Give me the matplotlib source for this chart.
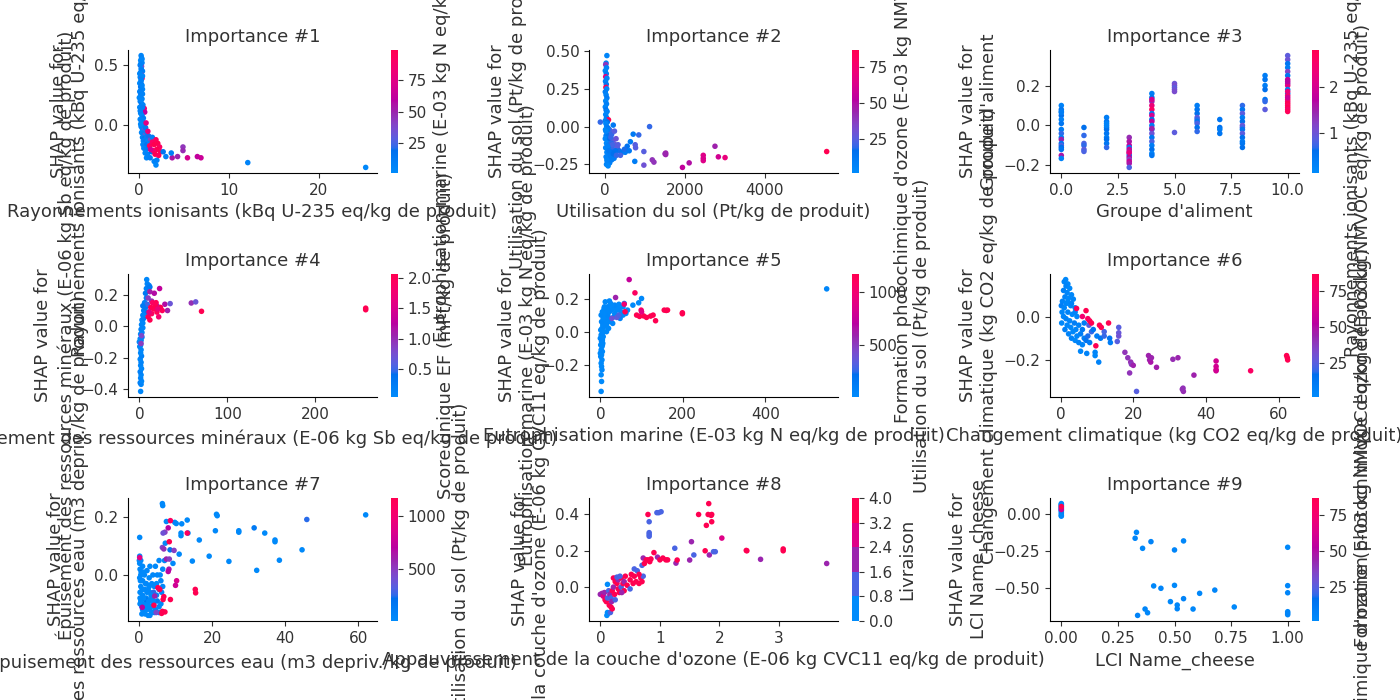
import numpy as np
import matplotlib
matplotlib.use('Agg')
import matplotlib.pyplot as plt
from matplotlib.colors import LinearSegmentedColormap, BoundaryNorm

# noms des variables (axe x / ylabel) et variable d'interaction (barre de couleur)
feat = ["Rayonnements ionisants (kBq U-235 eq/kg de produit)",
        "Utilisation du sol (Pt/kg de produit)",
        "Groupe d'aliment",
        "Épuisement des ressources minéraux (E-06 kg Sb eq/kg de produit)",
        "Eutrophisation marine (E-03 kg N eq/kg de produit)",
        "Changement climatique (kg CO2 eq/kg de produit)",
        "Épuisement des ressources eau (m3 depriv./kg de produit)",
        "Appauvrissement de la couche d'ozone (E-06 kg CVC11 eq/kg de produit)",
        "LCI Name_cheese"]
inter = ["Eutrophisation marine (E-03 kg N eq/kg de produit)",
         "Formation photochimique d'ozone (E-03 kg NMVOC eq/kg de produit)",
         "Rayonnements ionisants (kBq U-235 eq/kg de produit)",
         "Score unique EF (mPt/kg de produit)",
         "Utilisation du sol (Pt/kg de produit)",
         "Formation photochimique d'ozone (E-03 kg NMVOC eq/kg de produit)",
         "Utilisation du sol (Pt/kg de produit)",
         "Livraison",
         "Formation photochimique d'ozone (E-03 kg NMVOC eq/kg de produit)"]
c_min = [1.0, 1.4, 0.13, 0.05, 9, 1.4, 9, 0, 1.4]
c_max = [99, 87, 2.8, 2.06, 1175, 87, 1175, 4, 87]
cb_ticks4 = [0.5, 1.0, 1.5, 2.0]

# (valeur, shap, valeur interaction)
pts1 = [(0.25,0.58,5),(0.30,0.56,8),(0.20,0.54,3),(0.35,0.52,6),(0.15,0.50,10),(0.30,0.49,35),(0.25,0.47,4),
        (0.40,0.45,7),(0.20,0.44,12),(0.30,0.42,40),(0.15,0.40,5),(0.35,0.39,90),(0.25,0.37,6),(0.10,0.35,3),
        (0.30,0.34,9),(0.20,0.32,15),(0.40,0.30,4),(0.10,0.28,7),(0.30,0.27,5),(0.20,0.25,11),(0.05,0.23,3),
        (0.35,0.22,6),(0.15,0.20,8),(0.30,0.18,14),(0.45,0.17,5),(0.10,0.15,4),(0.25,0.13,9),(0.50,0.12,20),
        (0.60,0.14,85),(0.65,0.11,60),(0.20,0.10,6),(0.35,0.08,3),(0.50,0.06,10),(0.15,0.05,5),(0.30,0.03,7),
        (0.45,0.02,18),(0.60,0.00,4),(0.25,-0.01,9),(0.40,-0.03,6),(0.55,-0.04,25),(0.75,-0.02,12),(0.30,-0.06,4),
        (0.50,-0.07,8),(0.70,-0.08,30),(0.90,-0.06,6),(0.40,-0.10,5),(0.60,-0.11,15),(0.85,-0.10,9),(1.10,-0.09,20),
        (0.50,-0.13,7),(0.70,-0.14,11),(1.00,-0.13,5),(1.30,-0.12,40),(0.45,-0.16,3),(0.65,-0.17,8),(0.90,-0.16,14),
        (1.20,-0.15,6),(1.50,-0.10,10),(0.55,-0.19,5),(0.80,-0.20,9),(1.10,-0.19,12),(0.70,-0.23,4),(0.95,-0.24,7),
        (1.40,-0.22,18),(0.85,-0.27,6),(1.25,-0.27,10),(1.70,-0.30,5),(1.90,-0.33,3),(2.00,-0.29,8),
        (0.35,0.55,4),(0.20,0.51,6),(0.30,0.46,9),(0.10,0.43,5),(0.40,0.41,3),(0.25,0.38,7),(0.35,0.33,5),
        (0.20,0.29,8),(0.40,0.26,6),(0.25,0.21,4),(0.40,0.15,9),(0.15,0.12,6),(0.40,0.04,5),(0.20,0.01,3),
        (1.2,-0.17,95),(1.5,-0.14,90),(1.7,-0.16,99),(1.9,-0.12,95),(2.1,-0.15,99),(2.3,-0.18,92),(2.0,-0.20,99),
        (1.6,-0.21,88),(2.4,-0.22,97),(1.8,-0.24,99),(2.2,-0.25,94),(1.3,-0.20,70),(1.0,-0.05,80),(0.8,0.02,75),
        (3.7,-0.27,55),(4.9,-0.18,45),(4.9,-0.21,48),(5.4,-0.27,70),(6.5,-0.26,62),(6.9,-0.27,65),(4.3,-0.26,50),
        (3.6,-0.23,10),(3.0,-0.26,8),(2.7,-0.22,15),(12.1,-0.31,6),(25.2,-0.35,4)]

pts2 = [(40,0.47,5),(20,0.42,8),(10,0.41,40),(30,0.39,6),(0,0.37,3),(25,0.35,10),(10,0.33,70),(40,0.32,5),
        (5,0.30,7),(25,0.28,12),(15,0.26,85),(35,0.25,4),(0,0.23,9),(20,0.21,6),(40,0.19,11),(10,0.17,3),
        (30,0.15,8),(0,0.13,5),(20,0.11,14),(45,0.10,6),(10,0.08,4),(30,0.06,9),(80,0.045,87),(0,0.04,7),
        (50,0.03,15),(15,0.02,5),(-125,0.03,20),(35,0.0,8),(70,-0.01,12),(5,-0.02,4),(100,-0.02,18),(45,-0.04,6),
        (130,-0.03,22),(20,-0.06,9),(80,-0.06,14),(160,-0.05,20),(0,-0.08,5),(55,-0.09,7),(110,-0.08,16),
        (200,-0.09,25),(30,-0.11,4),(90,-0.12,10),(150,-0.11,19),(250,-0.12,28),(10,-0.14,6),(60,-0.15,8),
        (120,-0.14,13),(190,-0.15,20),(300,-0.14,26),(40,-0.17,5),(100,-0.18,9),(170,-0.17,15),(240,-0.18,11),
        (350,-0.16,18),(20,-0.20,7),(80,-0.21,6),(140,-0.20,12),(220,-0.21,9),(420,-0.17,14),(50,-0.23,4),
        (110,-0.24,8),(30,-0.25,5),(70,-0.26,3),(500,-0.17,10),(380,-0.19,22),(270,-0.08,30),(200,0.01,12),
        (230,-0.03,25),(60,-0.02,10),(140,-0.07,20),(180,-0.12,22),(260,-0.16,15),(320,-0.12,25),(130,-0.19,10),
        (200,-0.18,16),(15,-0.03,5),(60,-0.13,8),(90,-0.16,12),(280,-0.19,20),(160,-0.22,10),(40,-0.22,6),
        (630,-0.10,10),(700,-0.05,12),(840,-0.055,20),(750,-0.12,25),(760,-0.14,25),(740,-0.23,10),(550,-0.13,15),
        (480,-0.15,18),(600,-0.16,12),(968,-0.165,25),(968,-0.255,30),(1111,0.0,20),(1179,-0.22,40),
        (1221,-0.235,40),(1516,-0.175,45),(1516,-0.185,45),(1500,-0.18,44),(1937,-0.27,55),(2105,-0.24,50),
        (2459,-0.19,65),(2459,-0.225,65),(2459,-0.21,63),(2753,-0.13,45),(2838,-0.20,60),(3006,-0.205,70),
        (5557,-0.165,87)]

pts3 = [(0,0.10,0.3),(0,0.08,0.5),(0,0.07,0.4),(0,0.05,0.6),(0,0.03,0.3),(0,0.01,0.5),(0,-0.02,0.4),
        (0,-0.04,0.7),(0,-0.06,0.3),(0,-0.07,1.5),(0,-0.09,0.5),(0,-0.10,0.8),(0,-0.11,0.6),(0,-0.15,1.6),
        (0,-0.165,0.3),(0,0.065,0.4),(0,-0.12,0.5),
        (1,-0.01,0.6),(1,-0.05,0.7),(1,-0.09,0.8),(1,-0.10,0.7),(1,-0.12,0.9),(1,-0.13,0.8),
        (2,0.04,0.4),(2,0.02,0.5),(2,0.01,0.3),(2,-0.01,0.4),(2,-0.02,0.6),(2,-0.04,0.5),(2,-0.06,0.4),
        (2,-0.07,0.6),(2,-0.09,0.5),(2,-0.11,0.7),(2,0.0,0.3),
        (3,-0.06,1.4),(3,-0.08,1.6),(3,-0.10,1.8),(3,-0.11,0.4),(3,-0.12,1.9),(3,-0.13,1.5),(3,-0.14,2.0),
        (3,-0.15,0.5),(3,-0.16,1.7),(3,-0.17,1.2),(3,-0.18,1.9),(3,-0.19,1.6),(3,-0.21,0.8),(3,-0.135,2.2),
        (4,0.16,0.4),(4,0.14,0.5),(4,0.12,1.4),(4,0.10,2.3),(4,0.08,2.6),(4,0.06,0.5),(4,0.05,2.0),(4,0.03,0.6),
        (4,0.02,1.8),(4,0.0,0.4),(4,-0.02,0.7),(4,-0.04,1.0),(4,-0.06,0.5),(4,-0.08,0.8),(4,-0.10,0.4),
        (4,-0.12,0.6),(4,-0.14,0.3),(4,-0.15,0.5),(4,-0.015,1.5),(4,0.13,2.0),
        (5,0.21,1.0),(5,0.20,1.1),(5,0.19,0.9),(5,0.18,1.0),(5,0.17,1.1),(5,-0.035,0.9),
        (6,0.10,0.4),(6,0.08,0.5),(6,0.06,0.6),(6,0.04,0.9),(6,0.03,0.7),(6,0.02,0.5),(6,0.01,0.8),(6,-0.01,0.6),
        (6,-0.03,0.7),
        (7,0.03,0.5),(7,-0.01,0.6),(7,-0.02,0.4),(7,-0.04,0.5),
        (8,0.10,0.7),(8,0.08,0.5),(8,0.06,0.9),(8,0.04,0.4),(8,0.02,0.6),(8,0.0,1.0),(8,-0.01,0.8),(8,-0.02,0.5),
        (8,-0.04,0.9),(8,-0.06,0.6),(8,-0.08,0.4),(8,-0.09,0.5),(8,-0.11,0.6),
        (9,0.25,0.4),(9,0.23,0.5),(9,0.20,0.4),(9,0.18,0.6),(9,0.13,0.5),(9,0.12,0.7),(9,0.08,0.9),
        (10,0.35,0.9),(10,0.33,1.0),(10,0.31,0.5),(10,0.29,0.4),(10,0.27,1.2),(10,0.25,0.5),(10,0.23,1.8),
        (10,0.21,1.5),(10,0.20,2.2),(10,0.18,0.4),(10,0.16,0.5),(10,0.15,2.5),(10,0.13,2.7),(10,0.12,2.4),
        (10,0.11,2.8),(10,0.10,2.6),(10,0.09,2.9),(10,0.08,2.5),(10,0.07,2.7),(10,0.14,1.9),(10,0.17,2.3),
        (10,0.22,1.7)]

pts4 = [(1.5,-0.415,0.1),(2,-0.37,0.1),(1,-0.36,0.2),(2.5,-0.35,0.1),(1.5,-0.33,0.15),(2,-0.31,0.1),
        (1,-0.29,0.2),(2.5,-0.27,0.1),(1.5,-0.25,0.1),(2,-0.23,0.15),(1,-0.21,0.1),(2.5,-0.19,0.2),
        (1.5,-0.17,0.1),(2,-0.15,0.1),(0.5,-0.13,0.15),(1.5,-0.12,0.1),(0,-0.10,0.1),(2,-0.09,0.2),
        (1,-0.08,0.1),(3,-0.07,0.15),(1.5,-0.05,0.1),(3,-0.04,0.1),(2,-0.02,0.2),(4,-0.01,0.1),(2.5,0.01,0.15),
        (4,0.02,0.1),(3,0.04,0.1),(5,0.05,0.2),(4,0.07,0.15),(6,0.08,0.1),(2.5,-0.06,0.8),(2,-0.11,0.9),
        (5,0.10,0.2),(7,0.12,0.3),(6,0.15,0.2),(8,0.18,0.25),(7,0.21,0.3),(8,0.24,0.2),(9,0.27,0.15),
        (8.4,0.297,0.1),(11,0.26,0.2),(12,0.25,0.3),(9,0.14,0.5),(10,0.09,0.4),(4,0.13,0.3),
        (10,0.18,0.9),(12,0.22,1.1),(17,0.21,1.2),(23,0.24,1.3),(14,0.16,1.0),(29,0.14,1.2),(32,0.10,1.1),
        (35,0.144,0.7),(59,0.148,1.0),(64,0.155,0.7),(20,0.13,1.1),
        (10,0.06,2.0),(12,0.04,2.06),(14,0.08,1.9),(16,0.11,2.0),(18,0.13,2.06),(20,0.09,2.0),(22,0.06,1.8),
        (24,0.12,2.06),(26,0.10,2.0),(15,0.15,1.9),(13,0.12,2.06),(19,0.15,2.0),(21,0.11,1.7),(11,0.09,1.6),
        (70.6,0.095,2.06),(257,0.115,2.06),(257,0.105,2.06)]

pts5 = [(2,-0.36,20),(3,-0.30,15),(2,-0.26,25),(4,-0.23,30),(3,-0.21,20),(2,-0.19,15),(4,-0.17,25),
        (1,-0.15,30),(3,-0.14,20),(0,-0.13,15),(5,-0.12,25),(2,-0.11,30),(4,-0.09,20),(1,-0.08,15),
        (6,-0.07,25),(3,-0.06,30),(5,-0.05,20),(0,-0.04,40),(7,-0.03,25),(2,-0.02,15),(5,-0.01,30),
        (8,0.0,20),(1,0.01,25),(4,0.02,15),(9,0.03,30),(6,0.04,20),
        (10,0.05,25),(3,0.06,40),(12,0.07,30),(7,0.08,20),(15,0.09,25),(2,0.10,35),(18,0.10,40),(10,0.11,20),
        (22,0.12,30),(5,0.12,25),(14,0.13,20),(26,0.13,35),(9,0.14,30),(30,0.14,25),(18,0.15,40),(40,0.15,30),
        (25,0.17,20),(12,0.18,25),(22,0.185,30),(35,0.16,50),(45,0.14,25),(50,0.12,30),(55,0.10,20),
        (62,0.11,35),(20,0.06,25),(30,0.05,40),(15,0.04,30),(8,0.12,20),(33,0.09,100),(48,0.08,80),
        (58,0.17,30),(66,0.13,25),(15,0.0,20),(20,0.02,25),(25,0.08,30),(35,0.11,20),(40,0.13,25),(10,0.15,30),
        (28,0.16,20),(45,0.165,25),(55,0.15,30),(18,0.13,35),(8,0.08,25),(5,-0.08,20),
        (28,0.08,400),(40,0.086,350),(37,0.206,600),(70,0.314,750),(45,0.10,300),
        (79,0.16,20),(93,0.174,25),(100,0.20,30),(549,0.258,50),
        (84,0.234,1100),(58,0.166,1000),(60,0.12,1175),(88,0.10,1175),(99,0.13,1100),(112,0.086,1175),
        (122,0.094,1175),(134,0.066,1175),(155,0.13,1175),(160,0.128,1175),(163,0.13,1175),(199,0.114,1175),
        (199,0.108,1175),(105,0.095,1175),(95,0.092,1175),(128,0.10,1175),(100,0.12,900)]

pts6 = [(1.4,0.17,3),(1.0,0.16,5),(2.0,0.15,4),(1.5,0.14,6),(2.5,0.13,3),(0.8,0.12,8),(1.8,0.11,5),
        (3.0,0.10,4),(1.2,0.09,7),(2.2,0.085,3),(0.5,0.07,6),(3.5,0.08,5),(1.6,0.06,4),(0.2,0.05,9),
        (2.8,0.05,3),(1.0,0.04,5),(4.0,0.04,8),(0.4,0.02,4),(2.0,0.02,6),(3.2,0.01,3),(0.8,0.0,5),
        (1.5,-0.01,7),(4.5,0.0,4),(2.5,-0.02,5),(0.3,-0.03,3),(3.8,-0.03,9),(1.8,-0.04,4),(5.0,-0.04,6),
        (2.8,-0.05,3),(4.2,-0.06,5),(1.2,-0.06,8),(6.0,-0.06,12),(3.4,-0.07,4),(2.2,-0.08,6),(5.5,-0.08,10),
        (4.5,-0.09,5),(3.0,-0.10,7),(6.5,-0.10,9),(4.0,-0.11,4),(7.0,-0.11,15),(5.0,-0.12,6),(8.0,-0.12,11),
        (6.0,-0.13,5),(7.5,-0.09,18),(8.5,-0.07,20),(5.5,-0.16,4),(7.2,-0.17,6),(9.5,-0.165,5),(9.5,-0.18,4),
        (10.5,-0.21,6),(6.5,-0.03,10),(7.8,-0.04,25),(9,-0.06,14),(10,-0.09,8),(11,-0.10,12),(12,-0.09,20),
        (13.7,-0.12,10),(12,-0.07,22),(13.5,-0.10,15),(2.0,0.07,4),(3.0,0.06,6),(4.0,0.02,5),
        (4.4,0.037,85),(7.0,0.027,87),(8.0,-0.02,87),(7.5,-0.01,80),(8.5,-0.03,87),(10.7,-0.04,87),
        (11.2,-0.05,87),(13.2,-0.03,87),(9.7,-0.135,87),(6,0.0,75),
        (16,-0.05,25),(16,-0.075,28),(16,-0.09,30),(15.6,-0.115,25),(17.7,-0.165,40),(18.5,-0.19,40),
        (19.3,-0.21,42),(19.5,-0.22,38),(20,-0.225,45),(19,-0.26,40),(20.9,-0.345,25),(24.2,-0.18,45),
        (24.5,-0.2,45),(24.8,-0.21,48),(25,-0.19,44),(26.4,-0.234,46),(30.9,-0.197,42),(32.3,-0.19,44),
        (33.7,-0.33,40),(33.8,-0.345,42),(33.5,-0.335,41),(36.7,-0.27,45),(42.8,-0.205,60),(42.8,-0.23,60),
        (42.8,-0.245,62),(42.8,-0.25,60),(52.3,-0.25,80),(62.2,-0.18,87),(62.4,-0.19,87),(62.5,-0.2,87)]

pts7 = [(0.2,0.065,20),(0.5,0.05,10),(0.2,0.04,30),(1.0,0.03,15),(0.3,0.02,25),(0.6,0.01,40),(1.5,0.0,20),
        (0.2,-0.01,15),(1.0,-0.02,30),(2.0,-0.03,10),(0.5,-0.04,25),(1.5,-0.05,20),(2.5,-0.05,35),
        (0.3,-0.06,15),(3.0,-0.06,30),(1.0,-0.07,20),(2.0,-0.08,25),(3.5,-0.08,40),(0.5,-0.09,15),
        (1.5,-0.10,30),(2.5,-0.10,20),(4.0,-0.10,25),(0.8,-0.11,35),(3.0,-0.12,20),(2.0,-0.12,15),
        (1.2,-0.13,25),(3.5,-0.13,30),(4.5,-0.12,40),(2.5,-0.14,20),(0.8,-0.135,30),(5.0,-0.09,150),
        (5.5,-0.05,60),(6.0,-0.02,40),(5.0,0.0,30),(4.5,0.03,25),(3.0,0.03,20),(6.5,0.02,35),(7.0,0.05,30),
        (3.5,-0.03,20),(4.0,-0.06,250),(2.2,0.015,30),(1.8,-0.085,200),(6.2,-0.06,50),(5.5,0.05,25),
        (0.5,0.0,20),(1.2,0.01,25),(2.8,-0.01,15),(3.8,0.0,30),(4.8,-0.03,20),(0.4,-0.02,25),(1.8,-0.03,30),
        (2.8,-0.04,20),(4.2,-0.04,15),(0.9,-0.05,25),(2.2,-0.06,30),(3.3,-0.07,20),(4.8,-0.07,25),
        (1.3,-0.08,15),(2.7,-0.09,30),(3.9,-0.09,20),(0.3,-0.10,25),(1.0,-0.12,30),(3.3,-0.11,20),
        (4.2,-0.13,15),(1.7,-0.135,25),(5.5,-0.11,30),(6.0,-0.10,20),(2.2,-0.11,25),(5.8,0.0,20),
        (6.5,-0.04,25),(0.1,0.05,15),(0.3,-0.08,20),(5.5,-0.13,25),(3.0,-0.14,30),
        (0.2,0.13,20),(6.4,0.247,30),(6.5,0.24,30),(7.5,0.185,25),(9.8,0.182,20),(10.2,0.178,30),
        (11.7,0.177,25),(11.5,0.136,20),(11.5,0.145,25),(11,0.072,30),(13.2,0.19,20),(13.4,0.145,40),
        (14.6,0.048,25),(16.5,0.121,20),(19.2,0.065,25),(20.9,0.153,30),(21.2,0.21,20),(21.4,0.205,25),
        (24.6,0.047,20),(27.3,0.153,30),(27.3,0.148,25),(31.5,0.163,150),(32.2,0.016,20),(34.4,0.145,25),
        (37.2,0.121,20),(37.2,0.115,25),(38.4,0.051,20),(44.6,0.087,25),(45.9,0.192,250),(62,0.208,20),
        (8.5,0.087,200),(9.3,0.04,20),(7.2,0.11,30),
        (8.0,0.163,700),(7.1,0.148,500),(6.6,0.145,400),(6.4,0.095,450),(6.8,0.09,550),(7.5,0.055,600),
        (8.3,0.055,500),(8.2,0.02,650),(8.0,0.012,700),(9.6,0.085,500),(4.3,-0.073,600),(0.9,-0.112,700),
        (10.3,-0.02,850),(10.0,-0.036,800),(4.7,-0.13,450),
        (8.6,0.188,1100),(13.2,0.145,1100),(8.3,0.115,1175),(15.4,-0.05,1175),(15.5,-0.062,1175),
        (8.6,-0.085,1175),(6.6,-0.085,1175),(6.8,-0.075,1175),(5.2,-0.044,1175),(5.7,-0.05,1175),
        (6.4,-0.126,1175),(6.2,-0.133,1175),(7.1,-0.128,1175),(4.1,-0.105,1175),(0.2,0.06,900)]

pts8 = [(0.0,-0.04,2),(0.03,-0.035,2),(0.05,-0.05,3),(0.07,-0.03,2),(0.08,-0.07,4),(0.1,-0.08,4),
        (0.12,-0.06,1),(0.11,-0.156,0),(0.12,-0.14,0),(0.13,-0.145,0),(0.12,0.015,0),(0.17,-0.14,1),
        (0.15,-0.10,4),(0.18,-0.11,4),(0.2,-0.12,4),(0.14,-0.02,1),(0.16,-0.04,2),(0.18,-0.06,1),(0.2,-0.02,4),
        (0.22,0.0,2),(0.24,-0.04,4),(0.25,0.03,4),(0.26,0.05,4),(0.22,0.05,4),(0.28,0.02,4),(0.3,-0.01,4),
        (0.3,0.04,2),(0.32,-0.03,4),(0.35,0.0,1),(0.35,0.05,4),(0.38,0.02,4),(0.4,-0.02,4),(0.4,0.03,2),
        (0.42,0.06,4),(0.45,0.01,4),(0.19,-0.08,2),(0.25,-0.07,1),(0.28,0.055,1),(0.33,0.06,1),(0.36,-0.03,2),
        (0.5,0.04,4),(0.52,0.07,4),(0.55,0.02,4),(0.57,0.06,4),(0.6,0.03,4),(0.62,0.09,1),(0.5,-0.01,1),
        (0.65,0.02,4),(0.68,0.05,4),(0.7,0.03,4),(0.72,0.06,1),(0.7,0.12,1),(0.72,0.16,2),(0.74,0.13,4),
        (0.77,0.15,4),(0.8,0.15,4),(0.83,0.14,4),(0.85,0.155,4),(0.9,0.19,4),(0.96,0.165,2),(1.0,0.15,4),
        (1.05,0.16,4),(1.1,0.15,4),(1.13,0.15,4),(0.57,0.10,1),(0.65,0.07,4),
        (0.8,0.40,4),(0.82,0.36,1),(0.82,0.30,1),(0.82,0.28,1),(0.82,0.29,1),(0.95,0.41,1),(0.98,0.41,1),
        (1.02,0.415,1),(1.25,0.214,1),(1.27,0.132,2),(1.29,0.149,4),(1.5,0.149,2),(1.53,0.25,2),(1.57,0.177,1),
        (1.65,0.40,4),(1.76,0.20,4),(1.78,0.34,4),(1.81,0.40,4),(1.82,0.46,4),(1.83,0.177,2),(1.87,0.40,4),
        (1.87,0.36,4),(1.9,0.195,1),(1.93,0.195,1),(2.04,0.27,3),(2.46,0.20,4),(2.45,0.202,4),(2.69,0.153,2),
        (3.07,0.21,4),(3.07,0.20,4),(3.8,0.13,2),(1.86,0.395,4)]

pts9 = [(0,0.07,4),(0,0.06,6),(0,0.055,3),(0,0.045,5),(0,0.04,8),(0,0.025,4),(0,0.02,7),(0,0.01,3),
        (0,0.0,5),(0,-0.01,6),(0,-0.015,4),(0,0.035,9),(0,0.065,2),(0,0.03,60),(0,0.05,87),
        (0.332,-0.124,4),(0.326,-0.164,5),(0.359,-0.232,3),(0.396,-0.187,6),(0.54,-0.182,4),(0.5,-0.243,5),
        (1.0,-0.225,3),(0.408,-0.486,4),(0.44,-0.502,5),(0.5,-0.482,3),(0.54,-0.572,6),(0.512,-0.615,4),
        (0.512,-0.64,5),(0.482,-0.592,3),(0.611,-0.536,4),(0.678,-0.514,5),(0.582,-0.642,4),(0.764,-0.628,3),
        (0.37,-0.642,5),(0.381,-0.667,4),(0.337,-0.685,6),(1.0,-0.484,4),(1.0,-0.532,5),(1.0,-0.66,3),
        (1.0,-0.68,4),(1.0,-0.67,5)]

pts = [pts1, pts2, pts3, pts4, pts5, pts6, pts7, pts8, pts9]


# palette rouge-bleu (interpolation en LCH comme shap)
def lch_vers_rgb(l, c, h):
    a = c * np.cos(h)
    b = c * np.sin(h)
    fy = (l + 16.) / 116.
    fx = fy + a / 500.
    fz = fy - b / 200.
    def finv(t):
        return t**3 if t > 6/29 else 3*(6/29)**2*(t - 4/29)
    xyz = np.array([0.95047*finv(fx), finv(fy), 1.08883*finv(fz)])
    m = np.array([[3.2406, -1.5372, -0.4986],
                  [-0.9689, 1.8758, 0.0415],
                  [0.0557, -0.2040, 1.0570]])
    rgb = np.clip(m @ xyz, 0, 1)
    rgb = np.where(rgb > 0.0031308, 1.055*rgb**(1/2.4) - 0.055, 12.92*rgb)
    return np.clip(rgb, 0, 1)

n = 100
l_vals = np.concatenate([np.linspace(54., 40., n//2), np.linspace(40., 54., n//2)])
c_vals = np.linspace(70., 90., n)
h_vals = np.linspace(4.6588, 0.35470565 + 2*np.pi, n)
couleurs = [lch_vers_rgb(l, c, h) for l, c, h in zip(l_vals, c_vals, h_vals)]
cmap = LinearSegmentedColormap.from_list('red_blue', couleurs)

gris = '#333333'
W, H = 1400., 700.
gauche = [128, 589, 1050]
haut = [50, 274, 498]
cb_gauche = [391, 852, 1312]
larg, hauteur = 249, 123

fig = plt.figure(figsize=(14, 7), dpi=100)

for k in range(9):
    i, j = divmod(k, 3)
    bas = 1 - (haut[i] + hauteur)/H
    ax = fig.add_axes([gauche[j]/W, bas, larg/W, hauteur/H])
    cax = fig.add_axes([cb_gauche[j]/W, bas, 7/W, hauteur/H])
    x, y, c = np.array(pts[k]).T
    if k == 7:
        # variable categorielle -> barre discrete
        bornes = np.linspace(c_min[k], c_max[k], 6)
        norm = BoundaryNorm(bornes, cmap.N - 1)
        sc = ax.scatter(x, y, s=16, c=c, cmap=cmap, norm=norm, linewidth=0)
        cb = fig.colorbar(sc, cax=cax, ticks=bornes)
    else:
        sc = ax.scatter(x, y, s=16, c=c, cmap=cmap, vmin=c_min[k], vmax=c_max[k], linewidth=0)
        if k == 3:
            cb = fig.colorbar(sc, cax=cax, ticks=cb_ticks4)
        else:
            cb = fig.colorbar(sc, cax=cax)
    cb.outline.set_visible(False)
    cb.set_label(inter[k], size=13, color=gris)
    cb.ax.tick_params(labelsize=11, colors=gris)

    ax.set_xlabel(feat[k], fontsize=13, color=gris)
    ax.set_ylabel("SHAP value for\n" + feat[k], fontsize=13, color=gris)
    ax.set_title('Importance #' + str(k + 1), fontsize=13, color=gris)
    ax.spines['right'].set_visible(False)
    ax.spines['top'].set_visible(False)
    ax.tick_params(color=gris, labelcolor=gris, labelsize=11)

fig.savefig('out.png')
